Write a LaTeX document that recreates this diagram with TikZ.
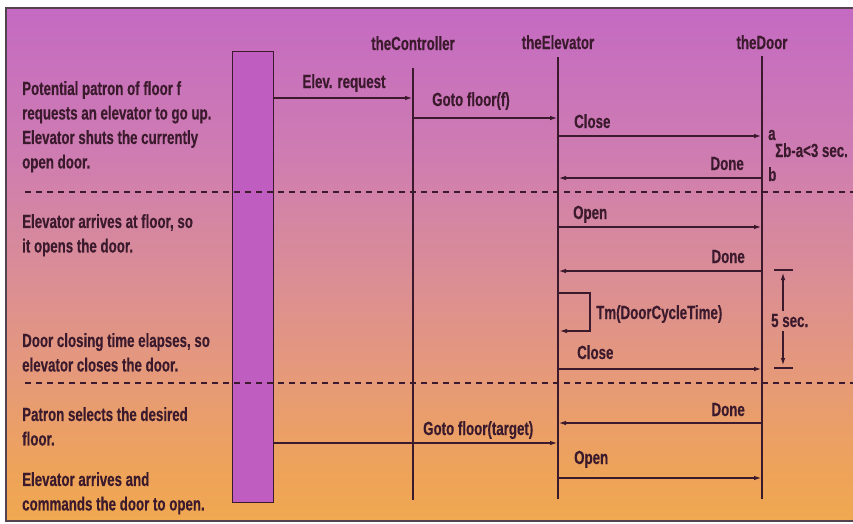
\documentclass[tikz,border=0pt]{standalone}
\usepackage{fontspec}
\setmainfont{Liberation Sans}[FakeStretch=0.70, FakeBold=0.3]
\usetikzlibrary{arrows.meta}

\definecolor{ink}{HTML}{3A1A2C}
\definecolor{edge}{HTML}{54424E}
\definecolor{barfill}{HTML}{BF5EC0}
\definecolor{shA}{HTML}{F0A850}
\definecolor{shB}{HTML}{EEA35A}
\definecolor{shC}{HTML}{E69A78}
\definecolor{shD}{HTML}{D98C98}
\definecolor{shE}{HTML}{CE7CB2}
\definecolor{shF}{HTML}{C46AC2}

% background panel: orange at the bottom, magenta at the top
\pgfdeclareverticalshading{panel}{100bp}{%
  color(0bp)=(shA); color(25bp)=(shA); color(30bp)=(shB);
  color(38.75bp)=(shC); color(50bp)=(shD); color(61bp)=(shE);
  color(75bp)=(shF); color(100bp)=(shF)}

\tikzset{
  lifeline/.style={draw=ink, line width=1.4pt},
  msg/.style={draw=ink, line width=1.6pt, -{Latex[length=8pt,width=4.5pt]}},
  sepline/.style={draw=ink, line width=1.6pt, dash pattern=on 6pt off 5pt},
  tickline/.style={draw=ink, line width=1.6pt},
  note/.style={align=left, anchor=north west},
  lbl/.style={anchor=base west},
  rlbl/.style={anchor=base east},
}

\begin{document}
\begin{tikzpicture}[x=1pt, y=-1pt,
    every node/.style={text=ink, inner sep=0pt},
    font=\bfseries\fontsize{19}{24.5}\selectfont]
  \useasboundingbox (0,0) rectangle (853,523);
  \fill[white] (0,0) rectangle (853,523);
  \shade[shading=panel] (6,8) rectangle (853,521);
  \draw[edge, line width=1.3pt] (853,8) -- (6,8) -- (6,521) -- (853,521);

  % object headings
  \node[anchor=base] (hC) at (413,50) {theController};
  \node[anchor=base] (hE) at (558,49) {theElevator};
  \node[anchor=base] (hD) at (762,49) {theDoor};

  % lifelines
  \coordinate (cTop) at (413,68);  \coordinate (cBot) at (413,500);
  \coordinate (eTop) at (558,57);  \coordinate (eBot) at (558,499);
  \coordinate (dTop) at (762,56);  \coordinate (dBot) at (762,499);
  \draw[lifeline] (cTop) -- (cBot);
  \draw[lifeline] (eTop) -- (eBot);
  \draw[lifeline] (dTop) -- (dBot);

  % the patron's activation bar
  \node[draw=ink, fill=barfill, line width=1.4pt, minimum width=41pt,
        minimum height=451pt, anchor=north west] (patron) at (232,51) {};

  % phase separators
  \coordinate (s1a) at (25,192);  \coordinate (s1b) at (853,192);
  \coordinate (s2a) at (25,383);  \coordinate (s2b) at (853,383);
  \draw[sepline] (s1a) -- (s1b);
  \draw[sepline] (s2a) -- (s2b);

  % narrative on the left
  \node[note] (n1) at (22,81) {Potential patron of floor f\\requests an elevator to go up.\\Elevator shuts the currently\\open door.};
  \node[note] (n2) at (22,214) {Elevator arrives at floor, so\\it opens the door.};
  \node[note] (n3) at (22,333) {Door closing time elapses, so\\elevator closes the door.};
  \node[note] (n4) at (22,407) {Patron selects the desired\\floor.};
  \node[note] (n5) at (22,472) {Elevator arrives and\\commands the door to open.};

  % message end points
  \coordinate (p1) at (273,98);   \coordinate (c1) at (413,98);
  \coordinate (c2) at (413,118);  \coordinate (e2) at (558,118);
  \coordinate (e3) at (558,136);  \coordinate (d3) at (762,136);
  \coordinate (d4) at (762,178);  \coordinate (e4) at (558,178);
  \coordinate (e5) at (558,227);  \coordinate (d5) at (762,227);
  \coordinate (d6) at (762,271);  \coordinate (e6) at (558,271);
  \coordinate (l1) at (558,293);  \coordinate (l2) at (590,293);
  \coordinate (l3) at (590,331);  \coordinate (l4) at (559,331);
  \coordinate (e7) at (558,369);  \coordinate (d7) at (762,369);
  \coordinate (d8) at (762,423);  \coordinate (e8) at (558,423);
  \coordinate (p9) at (273,443);  \coordinate (e9) at (558,443);
  \coordinate (e10) at (558,478); \coordinate (d10) at (762,478);

  % messages
  \draw[msg] (p1) -- (c1);
  \draw[msg] (c2) -- (e2);
  \draw[msg] (e3) -- (d3);
  \draw[msg] (d4) -- (e4);
  \draw[msg] (e5) -- (d5);
  \draw[msg] (d6) -- (e6);
  \draw[msg] (l1) -- (l2) -- (l3) -- (l4);
  \draw[msg] (e7) -- (d7);
  \draw[msg] (d8) -- (e8);
  \draw[msg] (p9) -- (e9);
  \draw[msg] (e10) -- (d10);

  % message labels
  \node[anchor=base] (t1) at (344,88) {Elev. request};
  \node[lbl] (t2) at (432,106) {Goto floor(f)};
  \node[lbl] (t3) at (574,128) {Close};
  \node[rlbl] (t4) at (744,170) {Done};
  \node[lbl] (t5) at (573,219) {Open};
  \node[rlbl] (t6) at (745,263) {Done};
  \node[lbl] (t7) at (596,319) {Tm(DoorCycleTime)};
  \node[lbl] (t8) at (577,359) {Close};
  \node[rlbl] (t9) at (745,416) {Done};
  \node[lbl] (t10) at (423,435) {Goto floor(target)};
  \node[lbl] (t11) at (574,464) {Open};

  % response-time constraint at the door
  \node[lbl] (ka) at (768,140) {a};
  \node[lbl] (kb) at (768,181) {b};
  \node[lbl] (ksum) at (775,157) {Σb-a<3 sec.};

  % door cycle interval
  \coordinate (u1) at (774,270);  \coordinate (u2) at (793,270);
  \coordinate (w1) at (774,368);  \coordinate (w2) at (793,368);
  \draw[tickline] (u1) -- (u2);
  \draw[tickline] (w1) -- (w2);
  \node[lbl] (five) at (771,327) {5 sec.};
  \coordinate (v1) at (783,311);  \coordinate (v2) at (783,272);
  \coordinate (v3) at (783,331);  \coordinate (v4) at (783,366);
  \draw[msg] (v1) -- (v2);
  \draw[msg] (v3) -- (v4);
\end{tikzpicture}
\end{document}
